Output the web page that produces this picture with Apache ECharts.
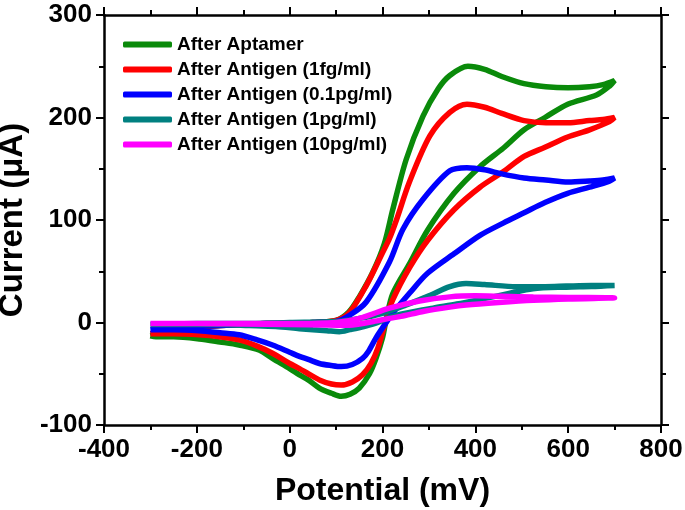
<!DOCTYPE html>
<html>
<head>
<meta charset="utf-8">
<script src="https://cdn.jsdelivr.net/npm/echarts@6/dist/echarts.min.js"></script>
<style>html,body{margin:0;padding:0;background:#fff}#c{width:685px;height:510px}</style>
</head>
<body>
<div id="c"></div>
<script>
// Potential (mV), Current (µA) pairs: forward scan then reverse scan
var aptamer = [[-300,-13],[-250,-8],[-200,-5],[-150,-3],[-100,-2],[-50,-1],[0,-1],[50,0],[100,2],[127,10],[150,25],[179,49],[204,77],[222,110],[251,159],[287,201],[320,228],[345,241],[384,250],[420,247],[457,240],[505,233],[552,230],[600,229],[646,230],[675,232],[700,236],
  [690,231],[661,222],[599,213],[550,200],[505,188],[460,170],[410,152],[354,126],[297,90],[259,58],[222,28],[208,3],[200,-15],[186,-35],[172,-50],[150,-64],[130,-70],[111,-72],[90,-69],[64,-64],[40,-56],[21,-51],[0,-45],[-37,-35],[-65,-27],[-109,-22],[-150,-19],[-195,-16],[-250,-14],[-288,-14],[-300,-13]];
var antigen1fg = [[-300,-11],[-250,-7],[-200,-4.5],[-150,-3],[-100,-2],[-50,-1],[0,-1],[50,0],[100,2],[129,10],[165,36],[200,68],[215,82],[230,100],[258,137],[302,182],[345,205],[382,213],[420,210],[457,204],[505,197],[552,195],[600,195],[646,197],[675,198],[700,200],
  [689,196],[646,188],[599,181],[550,171],[505,162],[460,147],[410,132],[354,110],[297,80],[259,54],[222,22],[208,3],[190,-25],[175,-40],[157,-51],[135,-58],[111,-61],[90,-60],[64,-56],[40,-50],[21,-45],[0,-40],[-37,-30],[-70,-23],[-109,-17],[-150,-14],[-195,-12],[-250,-11],[-300,-11]];
var antigen01pg = [[-300,-7],[-250,-5],[-200,-4],[-150,-3],[-100,-2],[-50,-1],[0,-1],[50,0],[100,1],[129,7],[165,20],[215,59],[244,91],[287,120],[345,148],[382,151],[420,149],[457,145],[505,141],[552,139],[600,137],[646,138],[675,139],[700,141],
  [689,138],[646,132],[599,126],[550,117],[505,107],[460,97],[410,85],[354,67],[297,48],[259,29],[222,9],[205,-2],[186,-15],[170,-28],[157,-35],[135,-41],[111,-43],[90,-42],[64,-40],[40,-36],[21,-33],[0,-29],[-37,-22],[-70,-17],[-109,-12],[-150,-10],[-195,-8],[-250,-7],[-300,-7]];
var antigen1pg = [[-300,-2],[-200,-1],[-100,-1],[0,0],[100,1],[150,4],[200,9],[250,17],[300,26],[345,35],[380,38],[420,37],[489,35],[550,35],[596,35.5],[650,36],[700,36],
  [650,35],[596,34.5],[524,33],[470,28],[416,23],[360,18],[309,14],[250,9],[215,5],[190,0],[160,-4],[130,-7],[107,-9],[80,-8],[50,-7],[21,-6],[-30,-4],[-87,-3],[-150,-2],[-250,-2],[-300,-2]];
var antigen10pg = [[-300,-1],[-200,-1],[-100,-1],[0,-1],[100,0],[150,4],[215,14],[280,21],[345,25],[400,26],[460,25.5],[525,25],[600,24.5],[700,24],
  [600,23],[525,21.7],[450,19.5],[380,17],[345,15],[290,11],[240,6],[215,4],[180,1],[129,-2.6],[80,-2.5],[0,-2],[-100,-1.5],[-200,-1],[-300,-1]];

var seriesNames = ['After Aptamer','After Antigen (1fg/ml)','After Antigen (0.1pg/ml)','After Antigen (1pg/ml)','After Antigen (10pg/ml)'];
var seriesData = [aptamer, antigen1fg, antigen01pg, antigen1pg, antigen10pg];
var seriesColors = ['#0a8a0a','#ff0000','#0000ff','#008080','#ff00ff'];
var xTicks = [-400, 800, 200];
var yTicks = [-100, 300, 100];

var FONT = "'Liberation Sans', Arial, sans-serif";
var chart = echarts.init(document.getElementById('c'), null, {renderer:'canvas'});
var axisLineStyle = {color:'#000', width:2.5};
function mkAxis(base, extra){ return Object.assign({}, base, extra); }

var xBase = {type:'value', min:xTicks[0], max:xTicks[1], interval:xTicks[2],
  axisLine:{show:true, onZero:false, lineStyle:axisLineStyle},
  axisTick:{show:true, inside:false, length:8, lineStyle:{color:'#000', width:2}},
  minorTick:{show:true, splitNumber:2, length:5, lineStyle:{color:'#000', width:2}},
  splitLine:{show:false}};
var yBase = {type:'value', min:yTicks[0], max:yTicks[1], interval:yTicks[2],
  axisLine:{show:true, onZero:false, lineStyle:axisLineStyle},
  axisTick:{show:true, inside:false, length:8, lineStyle:{color:'#000', width:2}},
  minorTick:{show:true, splitNumber:2, length:5, lineStyle:{color:'#000', width:2}},
  splitLine:{show:false}};

var option = {
  animation:false,
  backgroundColor:'#fff',
  grid:{left:104, right:24, top:15, bottom:85, containLabel:false, outerBoundsMode:'none'},
  legend:{
    show:true, orient:'vertical', left:118, top:30,
    itemWidth:49, itemHeight:6, itemGap:6, icon:'roundRect',
    textStyle:{fontFamily:FONT, fontWeight:'bold', fontSize:19, color:'#000'},
    data:seriesNames
  },
  xAxis:[
    mkAxis(xBase, {position:'bottom', name:'Potential (mV)', nameLocation:'middle', nameGap:50,
      nameTextStyle:{fontFamily:FONT, fontWeight:'bold', fontSize:32, color:'#000'},
      axisLabel:{show:true, margin:12, fontFamily:FONT, fontWeight:'bold', fontSize:26, color:'#000'}}),
    mkAxis(xBase, {position:'top', axisLabel:{show:false}})
  ],
  yAxis:[
    mkAxis(yBase, {position:'left', name:'Current (\u03bcA)', nameLocation:'middle', nameGap:70,
      nameTextStyle:{fontFamily:FONT, fontWeight:'bold', fontSize:33, color:'#000'},
      axisLabel:{show:true, margin:12, fontFamily:FONT, fontWeight:'bold', fontSize:26, color:'#000'}}),
    mkAxis(yBase, {position:'right', axisLabel:{show:false}})
  ],
  series: seriesNames.map(function(n, i){
    return {name:n, type:'line', data:seriesData[i], showSymbol:false, smooth:0.3,
      xAxisIndex:0, yAxisIndex:0,
      lineStyle:{color:seriesColors[i], width:5.5}, itemStyle:{color:seriesColors[i]}};
  })
};
chart.setOption(option);
</script>
</body>
</html>
